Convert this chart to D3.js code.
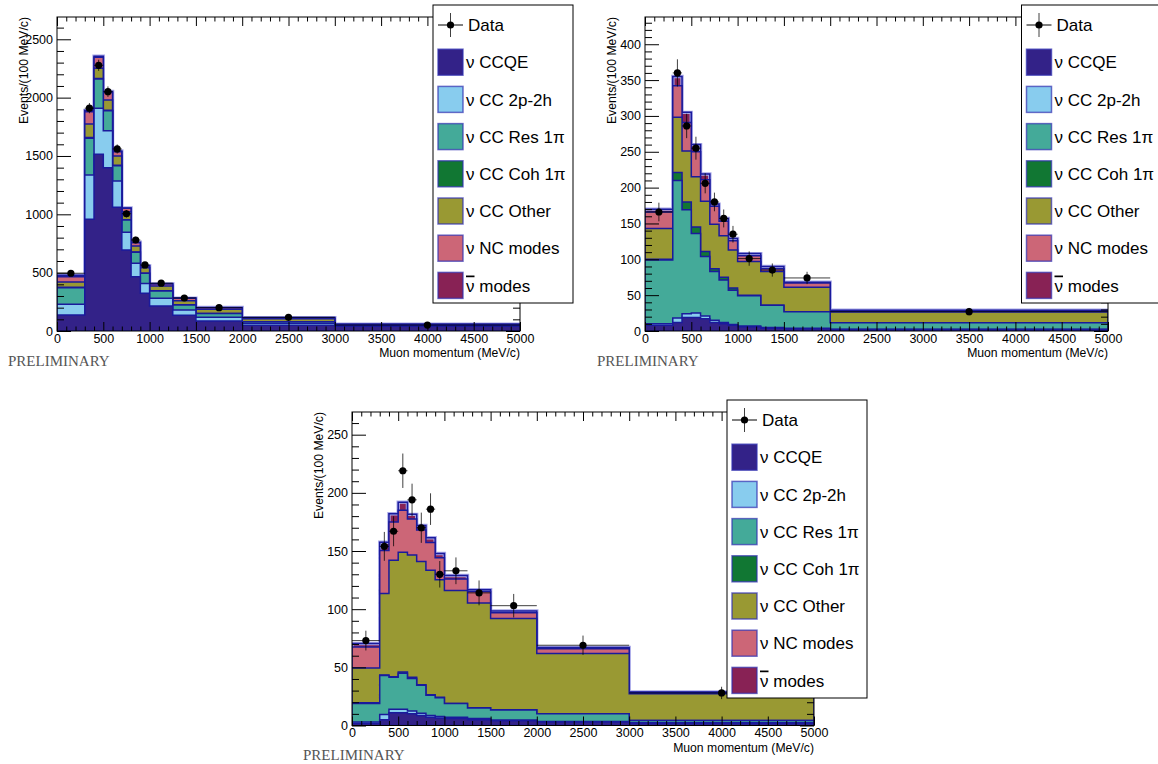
<!DOCTYPE html>
<html>
<head>
<meta charset="utf-8">
<script src="https://cdn.jsdelivr.net/npm/d3@7"></script>
<style>
    body { margin: 0; background: #fff; }
    svg { display: block; font-family: "Liberation Sans", Arial, sans-serif; }
</style>
</head>
<body>
<div id="chart"></div>
<script>
// Bin edges in MeV/c (second sample merges the tail into one bin)
var binEdgesA = [0, 300, 400, 500, 600, 700, 800, 900, 1000, 1250, 1500, 2000, 3000, 5000];
var binEdgesB = [0, 300, 400, 500, 600, 700, 800, 900, 1000, 1250, 1500, 2000, 5000];

var modeLabels = ["ν CCQE", "ν CC 2p-2h", "ν CC Res 1π", "ν CC Coh 1π", "ν CC Other", "ν NC modes", "ν̄ modes"];
var modeColors = ["#332288", "#88ccee", "#44aa99", "#117733", "#999933", "#cc6677", "#882255"];

var xMajorTicks = [0, 500, 1000, 1500, 2000, 2500, 3000, 3500, 4000, 4500, 5000];

// Top-left sample
var p1CCQE  = [137, 957, 1514, 1400, 1060, 694, 466, 323, 214, 134, 86, 49, 40];
var p1TwoP  = [92, 380, 394, 317, 226, 152, 114, 85, 66, 46, 31, 17, 5];
var p1Res   = [142, 314, 251, 171, 131, 105, 94, 86, 63, 43, 34, 14, 4];
var p1Coh   = [5, 8, 6, 4, 3, 2, 2, 1, 1, 1, 0, 0, 0];
var p1Other = [45, 115, 86, 87, 80, 70, 52, 48, 42, 36, 35, 24, 5];
var p1NC    = [43, 105, 94, 66, 37, 28, 29, 14, 17, 20, 14, 10, 3];
var p1Anti  = [14, 12, 10, 8, 6, 4, 3, 2, 2, 2, 1, 1, 1];
var p1Data  = [495, 1910, 2277, 2051, 1560, 1005, 780, 566, 410, 283, 200, 117, 51];
var p1Err   = [22, 44, 48, 45, 39, 32, 28, 24, 20, 17, 14, 11, 7];

// Top-right sample
var p2CCQE  = [8, 12, 19, 19, 17, 12, 10, 8, 6, 4, 3, 2];
var p2TwoP  = [2, 6, 5, 6, 4, 3, 2, 1, 1, 1, 1, 0.5];
var p2Res   = [89, 192, 145, 111, 83, 68, 59, 48, 42, 31, 23, 9];
var p2Coh   = [1, 11, 11, 9, 7, 4, 4, 3, 1, 0, 0, 0];
var p2Other = [43, 77, 71, 70, 70, 62, 58, 53, 47, 47, 34, 15];
var p2NC    = [23, 44, 40, 35, 30, 25, 20, 13, 8, 4, 6, 1.5];
var p2Anti  = [4, 13, 14, 10, 8, 3, 4, 3, 3, 3, 1, 1];
var p2Data  = [166, 360, 286, 255, 206, 180, 157, 135, 101, 85, 74, 27];
var p2Err   = [13, 19, 17, 16, 14, 13, 12.5, 11.6, 10, 9.2, 8.6, 5.2];

// Bottom sample
var p3CCQE  = [2, 5, 11, 11, 10, 8.5, 7, 6.5, 6, 5, 4, 3, 2];
var p3TwoP  = [1, 4.5, 3, 3, 2.5, 2, 1.5, 1.3, 1, 1, 0.8, 0.5, 0.3];
var p3Res   = [16, 33.5, 27.5, 31, 28, 24, 17.4, 16, 12, 9, 8.5, 6.5, 2];
var p3Coh   = [0.5, 0.5, 0.5, 1, 1, 0.5, 0.5, 0.5, 0, 0.3, 0.2, 0, 0];
var p3Other = [30, 70, 100, 103, 105, 106, 107, 101, 97, 90, 78.5, 52, 23];
var p3NC    = [18, 37, 33, 36, 31, 27, 24, 19, 10, 10, 5, 4, 1];
var p3Anti  = [3, 7, 7, 7, 4, 4, 4, 3.5, 3, 1.5, 1.5, 1, 0.5];
var p3Data  = [73, 154, 167, 219, 194, 170, 186, 130, 133, 114, 103, 69, 28];
var p3Err   = [8.5, 12.4, 12.9, 14.8, 13.9, 13, 13.6, 11.4, 11.5, 10.7, 10.1, 8.3, 5.3];

function init() {
    var W = 1158, H = 764;

    var svg = d3.select("#chart")
        .append("svg")
        .attr("width", W)
        .attr("height", H);

    var panels = [
        { id: "p1", left: 57, top: 17, width: 463, height: 314, yMax: 2691, yStep: 500, yMinor: 100,
          edges: binEdgesA, modes: [p1CCQE, p1TwoP, p1Res, p1Coh, p1Other, p1NC, p1Anti],
          data: p1Data, err: p1Err, legend: [433, 5], prelim: [8, 366] },
        { id: "p2", left: 645, top: 17, width: 463, height: 314, yMax: 438, yStep: 50, yMinor: 10,
          edges: binEdgesB, modes: [p2CCQE, p2TwoP, p2Res, p2Coh, p2Other, p2NC, p2Anti],
          data: p2Data, err: p2Err, legend: [1021.5, 5], prelim: [597, 366] },
        { id: "p3", left: 352, top: 412, width: 462, height: 313.5, yMax: 269.5, yStep: 50, yMinor: 10,
          edges: binEdgesA, modes: [p3CCQE, p3TwoP, p3Res, p3Coh, p3Other, p3NC, p3Anti],
          data: p3Data, err: p3Err, legend: [727, 400], prelim: [303, 760] }
    ];

    panels.forEach(p => drawPanel(svg, p));
    panels.forEach(p => drawLegend(svg, p.legend[0], p.legend[1]));
}

function drawPanel(svg, cfg) {
    var w = cfg.width, h = cfg.height;
    var g = svg.append("g").attr("transform", `translate(${cfg.left},${cfg.top})`);

    var xScale = d3.scaleLinear().domain([0, 5000]).range([0, w]);
    var yScale = d3.scaleLinear().domain([0, cfg.yMax]).range([h, 0]);

    svg.append("clipPath").attr("id", "clip-" + cfg.id)
        .append("rect").attr("width", w).attr("height", h);

    // cumulative sums for the stack
    var nb = cfg.edges.length - 1;
    var running = d3.range(nb).map(() => 0);
    var cum = cfg.modes.map(m => {
        running = running.map((v, i) => v + m[i]);
        return running.slice();
    });

    var area = d3.area()
        .curve(d3.curveStepAfter)
        .x(d => xScale(d.x))
        .y0(yScale(0))
        .y1(d => yScale(d.v));

    var hist = g.append("g").attr("clip-path", `url(#clip-${cfg.id})`);

    // draw from the top of the stack down, like THStack does
    for (var k = cum.length - 1; k >= 0; k--) {
        var pts = cum[k].map((v, i) => ({ x: cfg.edges[i], v: v }));
        pts.push({ x: cfg.edges[nb], v: cum[k][nb - 1] });
        var layer = hist.append("path")
            .attr("d", area(pts))
            .attr("fill", modeColors[k]);
        // light halo only round the full stack
        if (k === cum.length - 1) {
            layer.attr("stroke", "#a8a8e8").attr("stroke-width", 3.4);
        }
        hist.append("path")
            .attr("d", area(pts))
            .attr("fill", "none")
            .attr("stroke", "#1a1a9c")
            .attr("stroke-width", 1.5);
    }

    // data points with error bars
    var pts = cfg.data.map((v, i) => ({
        x0: cfg.edges[i], x1: cfg.edges[i + 1], xc: (cfg.edges[i] + cfg.edges[i + 1]) / 2,
        v: v, e: cfg.err[i]
    }));
    var dg = g.append("g");
    dg.selectAll(".xerr").data(pts).enter().append("line")
        .attr("x1", d => xScale(d.x0)).attr("x2", d => xScale(d.x1))
        .attr("y1", d => yScale(d.v)).attr("y2", d => yScale(d.v))
        .attr("stroke", "#000").attr("stroke-opacity", 0.75).attr("stroke-width", 1);
    dg.selectAll(".yerr").data(pts).enter().append("line")
        .attr("x1", d => xScale(d.xc)).attr("x2", d => xScale(d.xc))
        .attr("y1", d => yScale(d.v - d.e)).attr("y2", d => yScale(d.v + d.e))
        .attr("stroke", "#000").attr("stroke-opacity", 0.75).attr("stroke-width", 1);
    dg.selectAll("circle").data(pts).enter().append("circle")
        .attr("cx", d => xScale(d.xc))
        .attr("cy", d => yScale(d.v))
        .attr("r", 3.6)
        .attr("fill", "#000");

    // axes, ticks point inwards ROOT-style
    var xMinor = d3.range(0, 5001, 100).filter(v => v % 500 !== 0);
    var yMajor = d3.range(0, cfg.yMax + 0.1, cfg.yStep);
    var yMinor = d3.range(0, cfg.yMax, cfg.yMinor).filter(v => Math.abs(v / cfg.yStep - Math.round(v / cfg.yStep)) > 1e-6);

    function clean(sel, size) {
        sel.select(".domain").remove();
        sel.attr("font-family", null).attr("font-size", size);
        sel.selectAll("text").attr("fill", "#000");
    }

    g.append("g").attr("transform", `translate(0,${h})`)
        .call(d3.axisBottom(xScale).tickValues(xMajorTicks).tickSize(-9).tickPadding(3).tickFormat(d3.format("d")))
        .call(s => clean(s, 12.5));
    g.append("g").attr("transform", `translate(0,${h})`)
        .call(d3.axisBottom(xScale).tickValues(xMinor).tickSize(-4.5).tickFormat(""))
        .call(s => clean(s, 10));
    g.append("g")
        .call(d3.axisTop(xScale).tickValues(xMajorTicks).tickSize(-9).tickFormat(""))
        .call(s => clean(s, 10));
    g.append("g")
        .call(d3.axisTop(xScale).tickValues(xMinor).tickSize(-4.5).tickFormat(""))
        .call(s => clean(s, 10));

    g.append("g")
        .call(d3.axisLeft(yScale).tickValues(yMajor).tickSize(-14).tickPadding(4).tickFormat(d3.format("d")))
        .call(s => clean(s, 12.5));
    g.append("g")
        .call(d3.axisLeft(yScale).tickValues(yMinor).tickSize(-7).tickFormat(""))
        .call(s => clean(s, 10));
    g.append("g").attr("transform", `translate(${w},0)`)
        .call(d3.axisRight(yScale).tickValues(yMajor).tickSize(-14).tickFormat(""))
        .call(s => clean(s, 10));
    g.append("g").attr("transform", `translate(${w},0)`)
        .call(d3.axisRight(yScale).tickValues(yMinor).tickSize(-7).tickFormat(""))
        .call(s => clean(s, 10));

    // frame
    g.append("rect")
        .attr("width", w).attr("height", h)
        .attr("fill", "none").attr("stroke", "#000").attr("stroke-width", 1);

    // axis titles
    g.append("text")
        .attr("x", w).attr("y", h + 26)
        .attr("text-anchor", "end")
        .attr("font-size", 12.2)
        .text("Muon momentum (MeV/c)");
    g.append("text")
        .attr("transform", "translate(-29,0) rotate(-90)")
        .attr("text-anchor", "end")
        .attr("font-size", 12.2)
        .text("Events/(100 MeV/c)");

    svg.append("text")
        .attr("x", cfg.prelim[0]).attr("y", cfg.prelim[1])
        .attr("font-family", "'Liberation Serif', 'DejaVu Serif', serif")
        .attr("font-size", 15)
        .attr("fill", "#555")
        .text("PRELIMINARY");
}

function drawLegend(svg, lx, ly) {
    var rowH = 37.2;
    var lg = svg.append("g").attr("transform", `translate(${lx},${ly})`);

    lg.append("rect")
        .attr("width", 140).attr("height", 298)
        .attr("fill", "#fff").attr("stroke", "#000").attr("stroke-width", 1);

    // Data entry
    lg.append("line").attr("x1", 5).attr("x2", 30).attr("y1", 20).attr("y2", 20)
        .attr("stroke", "#000").attr("stroke-width", 1);
    lg.append("line").attr("x1", 17.5).attr("x2", 17.5).attr("y1", 8).attr("y2", 32)
        .attr("stroke", "#000").attr("stroke-opacity", 0.75).attr("stroke-width", 1);
    lg.append("circle").attr("cx", 17.5).attr("cy", 20).attr("r", 3.6).attr("fill", "#000");
    lg.append("text").attr("x", 35).attr("y", 20).attr("dy", "0.36em")
        .attr("font-size", 17).text("Data");

    var rows = lg.selectAll(".entry")
        .data(modeLabels)
        .enter()
        .append("g")
        .attr("transform", (d, i) => `translate(0,${20 + (i + 1) * rowH})`);

    rows.append("rect")
        .attr("x", 5).attr("y", -13)
        .attr("width", 25).attr("height", 26)
        .attr("fill", (d, i) => modeColors[i])
        .attr("stroke", "#3030b0").attr("stroke-opacity", 0.7).attr("stroke-width", 1.5);

    // the anti-neutrino label gets a real overline on the nu instead of a combining macron
    rows.append("text")
        .attr("x", 33).attr("dy", "0.36em")
        .attr("font-size", 17)
        .each(function (d) {
            var t = d3.select(this);
            if (d.indexOf("ν̄") === 0) {
                t.append("tspan").style("text-decoration", "overline").text("ν");
                t.append("tspan").text(d.slice(2));
            } else {
                t.text(d);
            }
        });
}

window.onload = init;
</script>
</body>
</html>
